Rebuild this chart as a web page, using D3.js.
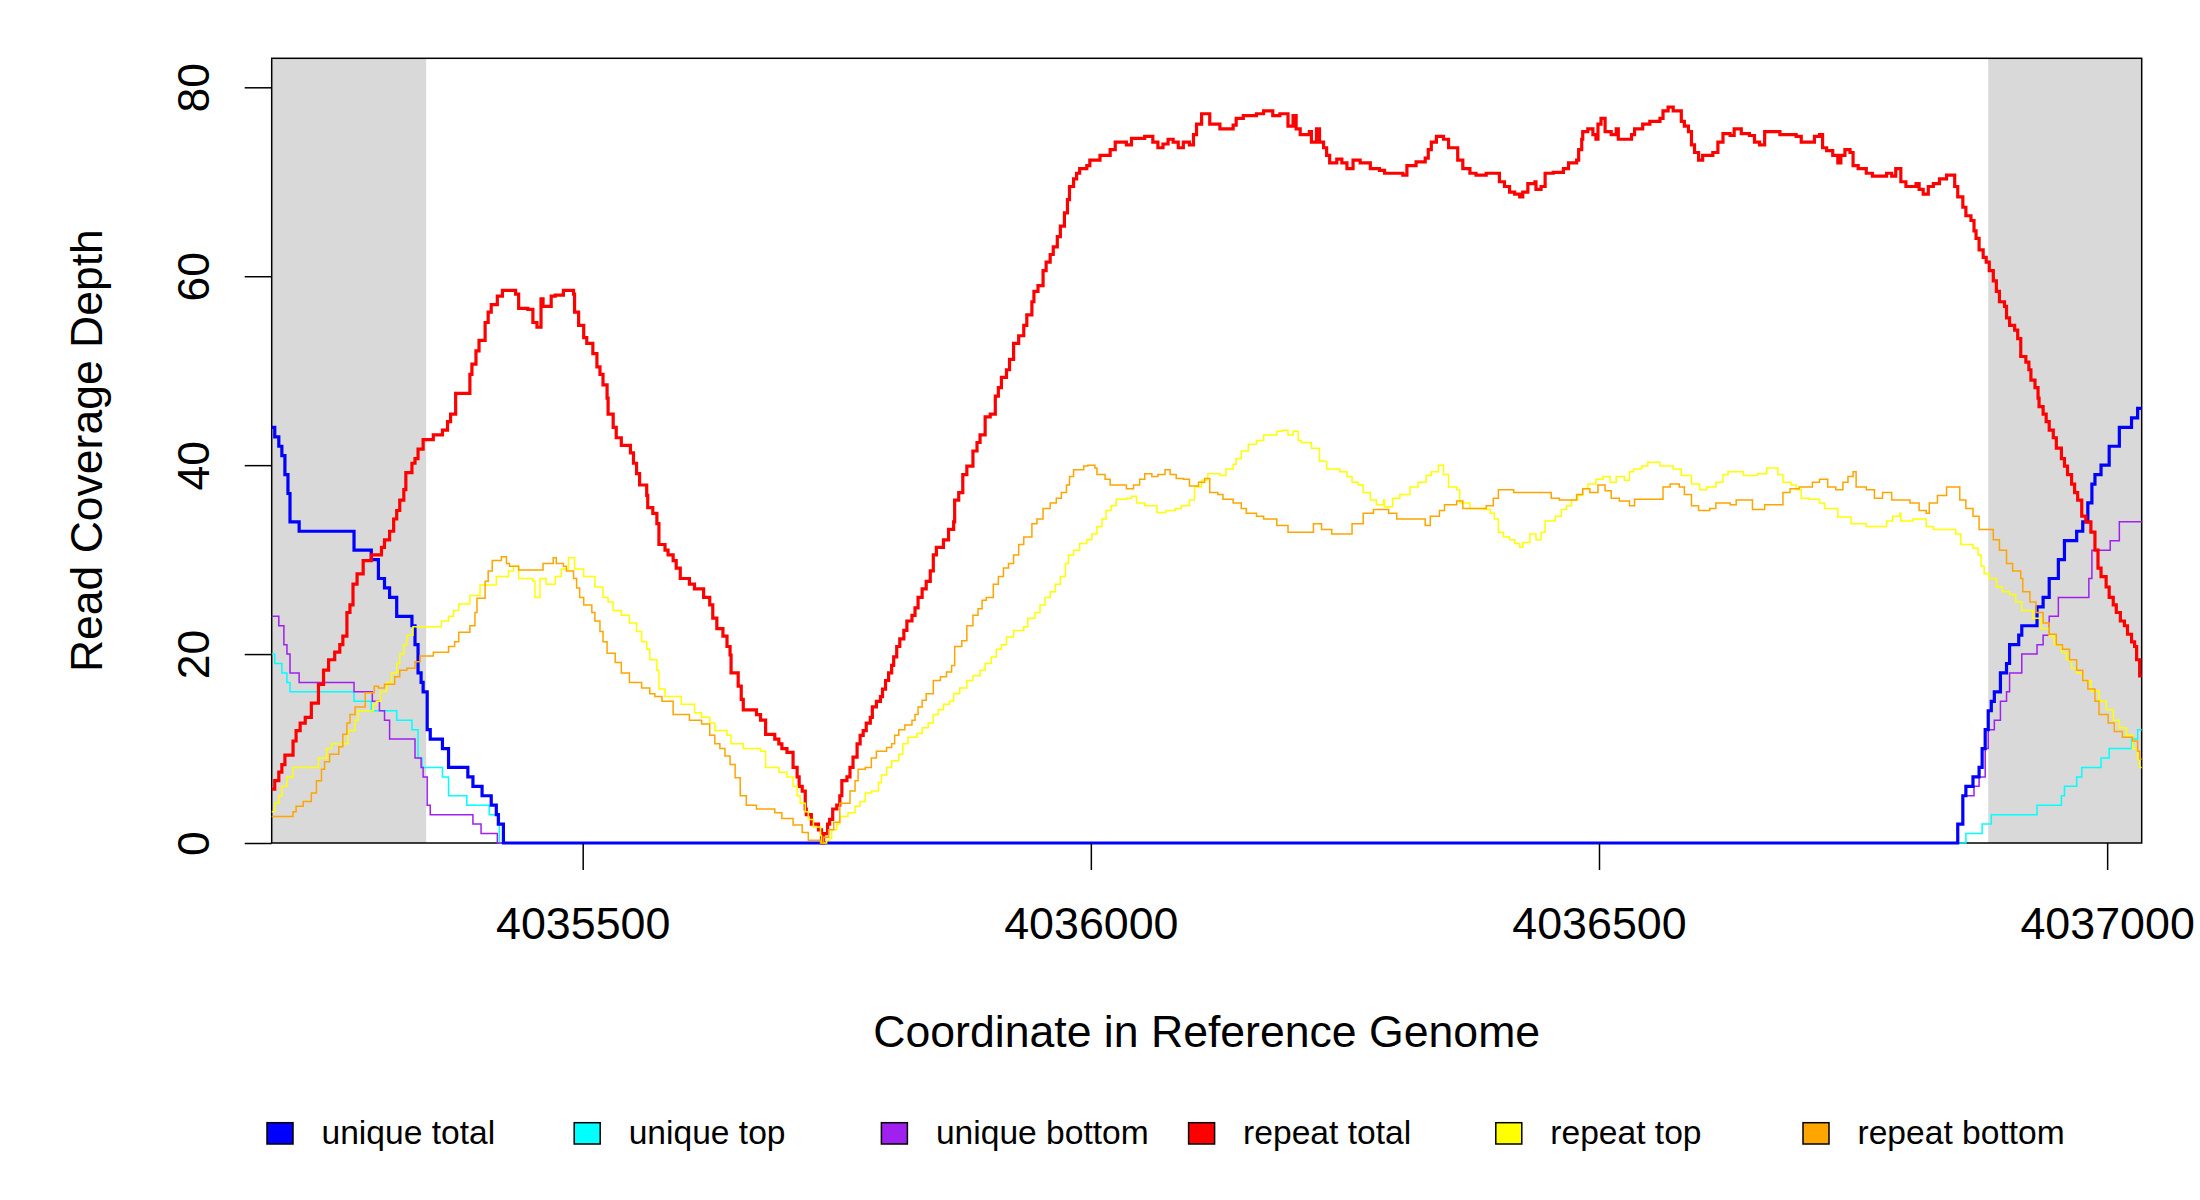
<!DOCTYPE html>
<html>
<head>
<meta charset="utf-8">
<script src="https://cdnjs.cloudflare.com/ajax/libs/d3/7.8.5/d3.min.js"></script>
<style>
  body { margin: 0; background: #fff; }
  svg { display: block; font-family: "Liberation Sans", Arial, sans-serif; }
</style>
</head>
<body>
<svg id="chart" width="2200" height="1200"></svg>
<script>
// Require D3
if (!window.d3) { throw "d3 wasn't included!"; }

/*
COVERAGE DATA
Each series is a list of [coordinate, depth] change points (step function)
*/
var uniqueTotal = [[4035194,44],[4035197,43],[4035201,42],[4035204,41],[4035207,39],[4035210,37],[4035212,34],[4035221,33],[4035275,31],[4035292,30],[4035299,28],[4035305,27],[4035310,26],[4035317,24],[4035332,23],[4035335,21],[4035338,18],[4035341,17],[4035343,16],[4035347,12],[4035350,11],[4035362,10],[4035368,8],[4035387,7],[4035392,6],[4035401,5],[4035410,4],[4035415,3],[4035417,2],[4035422,0],
  [4036853,2],[4036858,5],[4036861,6],[4036868,7],[4036874,8],[4036877,10],[4036880,12],[4036883,14],[4036886,15],[4036889,16],[4036895,18],[4036901,19],[4036904,21],[4036913,22],[4036916,23],[4036931,25],[4036937,26],[4036943,28],[4036952,30],[4036958,32],[4036970,33],[4036976,34],[4036981,36],[4036985,38],[4036988,39],[4036994,40],[4037002,42],[4037012,44],[4037024,45],[4037030,46]];

var uniqueTop = [[4035194,20],[4035197,19],[4035204,18],[4035209,17],[4035212,16],[4035275,15],[4035292,14],[4035317,13],[4035332,12],[4035338,9],[4035342,8],[4035362,7],[4035368,5],[4035386,4],[4035408,3],[4035418,0],
  [4036861,1],[4036877,2],[4036886,3],[4036931,4],[4036955,5],[4036958,6],[4036970,7],[4036975,8],[4036994,9],[4037002,10],[4037024,11],[4037030,12]];

var uniqueBottom = [[4035194,24],[4035201,23],[4035206,21],[4035209,20],[4035212,18],[4035221,17],[4035275,16],[4035293,15],[4035300,14],[4035305,13],[4035310,11],[4035335,9],[4035341,8],[4035343,7],[4035347,4],[4035350,3],[4035392,2],[4035400,1],[4035416,0],
  [4036853,2],[4036858,5],[4036869,6],[4036874,7],[4036880,10],[4036883,12],[4036889,13],[4036895,15],[4036901,16],[4036904,18],[4036916,20],[4036931,21],[4036937,22],[4036943,24],[4036952,26],[4036982,28],[4036985,31],[4037003,32],[4037012,34]];

var repeatTotal = [[4035194,5.7],[4035197,6.6],[4035201,7.5],[4035204,8.3],[4035207,9.3],[4035215,10.8],[4035218,11.9],[4035222,12.7],[4035227,13.3],[4035233,14.8],[4035240,16.8],[4035245,18.3],[4035250,19.4],[4035256,20.2],[4035261,21],[4035264,21.9],[4035268,24.4],[4035271,25.2],[4035274,27.4],[4035278,28.5],[4035284,29.9],[4035292,30.5],[4035302,31.3],[4035305,32.1],[4035310,33],[4035314,34.3],[4035317,35.2],[4035320,36.3],[4035324,37.4],[4035326,39.2],[4035332,40.2],[4035335,40.7],[4035338,41.7],[4035343,42.7],[4035353,43.2],[4035362,43.7],[4035367,44.6],[4035370,45.4],[4035375,47.6],[4035389,49.6],[4035391,50.7],[4035395,52.1],[4035398,53.2],[4035404,55.1],[4035407,56.2],[4035410,57],[4035416,57.9],[4035421,58.5],[4035434,58.1],[4035437,56.6],[4035446,56.5],[4035451,55.1],[4035455,54.6],[4035459,57.6],[4035461,56.8],[4035469,57.9],[4035473,58],[4035481,58.5],[4035491,58.1],[4035492,56.2],[4035496,54.8],[4035501,53.5],[4035504,52.9],[4035510,51.8],[4035514,50.4],[4035517,49.6],[4035520,48.5],[4035524,47.1],[4035525,45.4],[4035530,44],[4035533,42.9],[4035538,42.1],[4035547,41.3],[4035550,40.2],[4035553,39.1],[4035556,37.9],[4035563,36.8],[4035564,35.5],[4035569,34.9],[4035573,33.8],[4035575,31.6],[4035581,31],[4035584,30.5],[4035589,29.9],[4035592,29.1],[4035596,28],[4035605,27.4],[4035610,26.9],[4035619,26],[4035625,25.2],[4035628,23.8],[4035632,22.7],[4035638,21.9],[4035642,20.8],[4035645,19.9],[4035646,18],[4035653,16.6],[4035656,15.2],[4035658,14.1],
  [4035671,13.6],[4035675,13],[4035680,11.5],[4035689,11],[4035693,10.5],[4035696,10],[4035701,9.6],[4035707,8],[4035711,7],[4035713,6],[4035716,5.5],[4035719,3.6],[4035720,3],[4035725,2],[4035732,1.4],[4035735,0],[4035737,1],[4035741,2],[4035743,2.5],[4035746,3.6],[4035750,4],[4035753,5],[4035755,6.6],[4035760,7],[4035763,8],[4035766,9.1],[4035770,10.5],[4035773,11.4],[4035776,11.9],[4035779,12.7],[4035783,13.3],[4035785,14.4],[4035789,15],[4035793,15.5],[4035795,16.3],[4035798,17.2],[4035801,18],[4035804,18.8],[4035806,19.7],[4035809,20.8],[4035812,21.6],[4035816,22.5],[4035819,23.5],[4035824,24.1],[4035827,24.9],[4035830,26],[4035834,26.9],[4035838,27.7],[4035842,28.8],[4035845,30.5],[4035848,31.3],[4035855,32.1],[4035860,33.2],[4035865,34],[4035866,36.3],[4035870,37.1],[4035874,39],[4035878,39.9],[4035884,41.5],[4035888,42.4],[4035891,43.2],[4035896,45.1],[4035901,45.4],[4035906,47.3],[4035909,48.2],[4035912,49.3],[4035917,50.1],[4035920,51.2],[4035924,52.9],[4035929,53.7],[4035934,54.8],[4035937,55.9],[4035942,57.3],[4035944,58.4],[4035948,59],[4035953,60.6],[4035956,61.5],[4035960,62.3],[4035963,63.1],[4035967,64.2],[4035970,65.3],[4035974,66.7],[4035977,68.1],[4035979,69.5],[4035983,70.3],[4035986,70.9],[4035989,71.4],[4035996,71.7],[4035999,72.3],[4036009,72.8],[4036019,73.4],[4036024,74.2],[4036035,73.9],[4036040,74.6],[4036053,74.8],[4036061,74.2],[4036066,73.6],[4036071,74],[4036076,74.5],[4036081,74.2],[4036086,73.6],[4036091,74.2],[4036097,73.9],[4036101,75],[4036104,76.1],[4036109,77.2],[4036117,76.1],[4036127,75.6],[4036140,76],[4036143,76.7],
  [4036150,77],[4036163,77.2],[4036170,77.5],[4036179,77],[4036186,77.2],[4036194,75.9],[4036199,77],[4036202,75.6],[4036206,75],[4036215,75.3],[4036217,74.2],[4036222,75.6],[4036225,74.2],[4036229,73.6],[4036232,72.8],[4036235,72],[4036242,72.4],[4036247,72],[4036252,71.4],[4036258,72.3],[4036265,72],[4036275,71.4],[4036284,71.2],[4036289,70.9],[4036307,70.7],[4036311,71.7],[4036320,72.1],[4036329,72.5],[4036332,73.4],[4036335,74.2],[4036340,74.8],[4036347,74.5],[4036352,73.6],[4036361,72.3],[4036366,71.4],[4036373,70.9],[4036379,70.7],[4036389,70.9],[4036402,70],[4036407,69.5],[4036412,68.9],[4036417,68.7],[4036422,68.4],[4036425,68.9],[4036430,69.8],[4036437,70],[4036438,69.2],[4036443,69.5],[4036447,70.9],[4036455,71],[4036465,71.4],[4036470,72],[4036478,72.3],[4036480,73.4],[4036483,74.5],[4036484,75.3],[4036489,75.6],[4036494,75],[4036497,74.5],[4036499,76.1],[4036502,76.7],[4036506,75.3],[4036512,75],[4036517,75.6],[4036519,74.5],[4036532,75],[4036535,75.6],[4036543,76.1],[4036550,76.4],[4036560,76.7],[4036563,77.5],[4036568,77.9],[4036573,77.5],[4036581,76.4],[4036584,75.9],[4036588,75.3],[4036591,73.9],[4036594,73.1],[4036598,72.3],
  [4036602,72.8],[4036612,73.1],[4036617,74.2],[4036622,75.1],[4036629,74.9],[4036633,75.6],[4036640,75.1],[4036648,74.9],[4036653,74.2],[4036658,73.9],[4036663,75.3],[4036678,75],[4036694,74.8],[4036699,74.2],[4036712,74.8],[4036717,75],[4036720,73.6],[4036724,73.3],[4036730,72.8],[4036735,72],[4036738,72.8],[4036742,73.4],[4036747,73.1],[4036750,71.7],[4036755,71.4],[4036763,70.9],[4036769,70.6],[4036783,70.9],[4036788,70.6],[4036792,71.4],[4036797,70],[4036802,69.5],[4036812,69.8],[4036815,69.2],[4036819,68.7],[4036824,69.5],[4036829,69.8],[4036835,70.3],[4036842,70.7],[4036850,69.5],[4036853,68.4],[4036858,67.3],[4036861,66.4],[4036866,65.9],[4036869,64.8],[4036871,64],[4036874,62.8],[4036878,62],[4036881,61.5],[4036884,60.6],[4036888,59.5],[4036891,58.4],[4036894,57.3],[4036899,56.8],[4036901,55.6],[4036904,54.8],[4036909,54.3],[4036912,53.4],[4036915,51.5],[4036920,50.9],[4036923,50.1],[4036925,49],[4036929,48.2],[4036932,47.1],[4036933,46.2],[4036937,45.4],[4036940,44.6],[4036943,43.7],[4036947,42.9],[4036950,41.8],[4036955,40.7],[4036958,39.9],[4036961,39],[4036965,38],[4036968,37.1],[4036971,36.3],[4036975,34.6],[4036979,34],[4036984,32.9],[4036988,31],[4036991,29.1],[4036994,28.2],[4036999,27.1],[4037002,26],[4037006,25.2],[4037009,24.4],[4037013,23.5],[4037017,23],[4037020,22.1],[4037024,21.3],[4037027,20.8],[4037029,19.4],[4037032,17.7]];

var repeatTop = [[4035194,3.3],[4035197,4.2],[4035201,5],[4035204,6],[4035209,7],[4035215,8],[4035240,9],[4035248,10],[4035253,10.5],[4035269,11.9],[4035276,13],[4035279,14],[4035294,14.7],[4035297,15],[4035301,16],[4035307,17],[4035312,18],[4035317,19],[4035320,20],[4035324,21],[4035327,22],[4035333,22.9],[4035361,23.5],[4035368,24],[4035373,24.6],[4035378,25.3],[4035389,26.2],[4035399,27.3],[4035415,28.2],[4035427,28.8],[4035432,29.3],[4035437,28],[4035451,27.7],[4035453,26],[4035458,28],[4035464,27.4],[4035473,28.2],[4035479,29],[4035486,30.2],[4035492,29],[4035501,28.2],[4035512,27.1],[4035520,26],[4035525,25.5],[4035530,24.6],[4035538,24.1],[4035546,23.3],[4035553,22.4],[4035558,21.3],[4035563,20.5],[4035566,19.4],[4035573,18.3],[4035575,16.3],[4035581,15.5],[4035597,14.7],[4035610,13.8],[4035617,13.3],[4035625,12.7],[4035630,11.9],[4035642,11.4],[4035646,10.5],[4035658,10],
  [4035675,9.7],[4035680,8],[4035693,7.5],[4035701,7],[4035707,6],[4035711,5],[4035714,4.2],[4035719,3.3],[4035722,2.5],[4035727,1.7],[4035734,0.8],[4035735,0],[4035740,0.3],[4035743,0.5],[4035745,1.4],[4035750,2],[4035753,2.8],[4035761,3.2],[4035768,3.9],[4035773,4.4],[4035778,5.3],[4035784,5.5],[4035791,6.4],[4035794,7.2],[4035799,8],[4035804,8.7],[4035811,9.4],[4035815,10.5],[4035820,11.2],[4035829,11.6],[4035834,12.2],[4035840,12.7],[4035845,13.6],[4035850,14.1],[4035855,14.7],[4035861,15],[4035865,15.8],[4035871,16.4],[4035878,17.2],[4035884,17.7],[4035891,18.3],[4035896,19],[4035902,19.7],[4035907,20.5],[4035912,21],[4035917,21.8],[4035924,22.5],[4035934,22.9],[4035938,23.8],[4035945,24.4],[4035950,25.2],[4035955,26],[4035960,26.6],[4035965,27.4],[4035970,28.2],[4035975,29.6],[4035978,30.5],[4035983,31],[4035989,31.7],[4035996,32.1],[4036001,32.7],[4036006,33.5],[4036011,34.3],[4036015,35.2],[4036020,35.7],[4036025,36.4],[4036035,36.5],[4036040,36.7],[4036045,36],[4036053,35.7],[4036065,35],[4036074,35.2],[4036083,35.4],[4036089,35.7],[4036097,36.3],[4036102,37.7],[4036109,38.4],[4036115,39.1],[4036127,38.9],[4036133,39.6],[4036140,40.1],
  [4036143,40.7],[4036148,41.5],[4036155,42.2],[4036163,42.6],[4036170,43.2],[4036183,43.6],[4036188,43.7],[4036194,43.2],[4036199,43.6],[4036204,42.6],[4036207,42.4],[4036217,41.8],[4036225,40.4],[4036232,39.6],[4036245,39.3],[4036252,38.8],[4036257,38.2],[4036263,37.9],[4036268,37.1],[4036275,36.3],[4036281,35.8],[4036288,36.3],[4036289,35.6],[4036297,36.5],[4036304,36.9],[4036314,37.7],[4036322,38.2],[4036330,38.9],[4036335,39.3],[4036342,40],[4036347,39],[4036352,37.7],[4036360,37.4],[4036363,36],[4036373,35.4],[4036386,35.3],[4036393,34.9],[4036397,34.3],[4036401,32.9],[4036406,32.4],[4036412,32.1],[4036417,31.7],[4036422,31.3],[4036425,31.8],[4036432,32.7],[4036438,32.1],[4036443,32.9],[4036447,34.1],[4036457,34.6],[4036463,35.3],[4036468,35.7],[4036473,36.3],[4036479,36.8],[4036484,37.5],[4036489,38],[4036497,38.5],[4036504,38.8],[4036511,38.2],[4036517,38.8],[4036525,38.4],[4036530,39.3],[4036534,39.6],[4036542,39.9],[4036548,40.3],[4036560,39.9],[4036573,39.6],[4036581,38.9],[4036591,38],[4036599,37.4],
  [4036606,37.7],[4036615,38.2],[4036622,39],[4036627,39.3],[4036642,38.9],[4036656,39.1],[4036665,39.7],[4036676,39],[4036681,38.2],[4036689,37.9],[4036694,37.4],[4036699,36.5],[4036707,36.4],[4036717,36],[4036722,35.4],[4036735,34.5],[4036748,33.8],[4036763,33.5],[4036783,34.1],[4036789,34.6],[4036796,34.9],[4036797,34.1],[4036809,34.3],[4036822,33.5],[4036829,33.2],[4036851,32.7],[4036856,31.6],[4036868,31.2],[4036873,30.5],[4036876,29.3],[4036879,28.5],[4036884,28],[4036891,27.1],[4036897,26.6],[4036904,26.3],[4036910,25.5],[4036916,24.6],[4036927,23.8],[4036935,22.7],[4036943,21.9],[4036948,21],[4036955,20.2],[4036960,19.4],[4036965,18.5],[4036970,18],[4036976,17.2],[4036984,16.1],[4036992,15],[4036999,14.1],[4037006,13],[4037012,12.2],[4037019,11.4],[4037025,10],[4037030,8.9],[4037032,8]];

var repeatBottom = [[4035194,2.8],[4035215,3.3],[4035218,3.9],[4035225,4.4],[4035233,5.3],[4035238,6.6],[4035243,7.8],[4035246,8.6],[4035251,9.4],[4035260,10.2],[4035264,11.5],[4035268,12.7],[4035271,13.6],[4035276,14.4],[4035286,15.9],[4035295,16.6],[4035299,16.4],[4035305,16.8],[4035315,17.6],[4035320,18.3],[4035327,18.5],[4035335,19.2],[4035340,19.8],[4035353,20.2],[4035368,20.8],[4035374,21.3],[4035378,22.3],[4035389,23],[4035394,24.4],[4035396,25.9],[4035404,27.7],[4035407,28.8],[4035411,29.9],[4035420,30.3],[4035425,29.6],[4035428,29.3],[4035437,28.9],[4035461,29.6],[4035471,30.2],[4035474,29.6],[4035481,29.3],[4035484,28.8],[4035491,28],[4035494,27],[4035497,26],[4035501,25.2],[4035509,24.4],[4035512,23.5],[4035517,22.4],[4035520,21.3],[4035524,20.1],[4035532,19.1],[4035538,18],[4035546,17],[4035558,16.4],[4035566,15.8],[4035571,15.5],[4035578,15],[4035589,13.6],[4035605,13],[4035617,12.6],[4035625,11.4],[4035630,10.5],[4035635,10],[4035640,9.2],[4035645,8.3],[4035650,6.9],[4035655,5],
  [4035661,4],[4035671,3.6],[4035689,3.2],[4035696,2.6],[4035707,1.9],[4035716,1.1],[4035722,0.3],[4035734,0],[4035737,0.6],[4035742,1.4],[4035747,2.2],[4035753,4.2],[4035763,5.5],[4035768,6.6],[4035771,7.8],[4035778,8],[4035784,9],[4035789,9.7],[4035799,10.1],[4035804,10.5],[4035807,11.4],[4035811,12],[4035817,12.5],[4035824,13],[4035827,13.6],[4035830,14.4],[4035834,15.1],[4035838,15.8],[4035845,17.2],[4035852,17.6],[4035858,18.1],[4035863,18.8],[4035866,20.8],[4035873,21.4],[4035878,23],[4035884,24.1],[4035889,24.8],[4035893,25.7],[4035897,26],[4035904,27.4],[4035909,28.2],[4035914,29.1],[4035919,29.6],[4035924,30.5],[4035929,31.6],[4035934,32.4],[4035942,33.8],[4035947,34.3],[4035953,35.4],[4035960,36],[4035966,36.5],[4035971,37.1],[4035976,37.9],[4035979,38.8],[4035983,39.5],[4035993,39.9],[4035997,40],[4036004,39.7],[4036006,39],[4036014,38.5],[4036019,37.9],[4036035,37.5],[4036042,37.9],[4036048,38.5],[4036053,39.1],[4036060,38.8],[4036066,39],[4036073,39.5],[4036078,39],[4036084,38.6],[4036091,38.5],[4036097,37.8],[4036106,38.2],[4036112,38.6],[4036117,37.1],[4036125,36.9],[4036130,36.4],[4036140,36],
  [4036148,35.4],[4036153,34.9],[4036163,34.6],[4036170,34.3],[4036183,33.6],[4036194,32.9],[4036219,33.8],[4036227,33.2],[4036237,32.7],[4036257,33.8],[4036268,34.9],[4036278,35.3],[4036293,34.9],[4036301,34.3],[4036329,33.6],[4036334,34.6],[4036343,35.2],[4036348,35.8],[4036360,36.2],[4036366,35.4],[4036389,35.7],[4036396,36.5],[4036401,37.4],[4036416,37.1],[4036453,36.5],[4036461,36.3],[4036478,36.9],[4036484,37.5],[4036491,37.1],[4036499,37.9],[4036506,37.3],[4036512,36.5],[4036520,36.2],[4036530,35.7],[4036535,36.4],[4036563,37.7],[4036570,38],[4036579,37.7],[4036584,36.9],[4036591,35.7],[4036598,35.2],
  [4036609,35.4],[4036615,36],[4036629,35.8],[4036635,36.3],[4036651,35.3],[4036663,35.8],[4036681,37.1],[4036688,37.5],[4036697,37.7],[4036710,38.2],[4036717,38.5],[4036725,37.7],[4036733,37.4],[4036740,38.2],[4036745,38.8],[4036750,39.3],[4036753,37.7],[4036763,37.4],[4036771,36.5],[4036779,37.1],[4036788,36.3],[4036806,36],[4036815,35.2],[4036822,34.9],[4036825,36],[4036833,36.8],[4036842,37.7],[4036855,36.3],[4036861,35.4],[4036868,34.6],[4036874,33.2],[4036888,32.1],[4036894,31],[4036901,29.6],[4036907,28.8],[4036915,28],[4036917,26.6],[4036924,25.5],[4036930,24.4],[4036937,23.3],[4036943,22.1],[4036950,21],[4036956,20.5],[4036963,19.4],[4036970,18.3],[4036976,17.2],[4036981,16.3],[4036988,15],[4036992,13.6],[4037001,12.7],[4037007,11.8],[4037015,11.2],[4037025,10.8],[4037030,9.7],[4037032,8.9]];

// Axis extents and ticks
var xExtent = [4035194, 4037034];
var yExtent = [0, 83.07];
var xTicks = [4035500, 4036000, 4036500, 4037000];
var yTicks = [0, 20, 40, 60, 80];

// Shaded flanks at both ends
var flanks = [[4035194, 4035346], [4036883, 4037034]];

// Series labels and colours (legend order)
var seriesNames = ["unique total", "unique top", "unique bottom", "repeat total", "repeat top", "repeat bottom"];
var seriesData = [uniqueTotal, uniqueTop, uniqueBottom, repeatTotal, repeatTop, repeatBottom];
var seriesColors = ["#0000ff", "#00ffff", "#a020f0", "#ff0000", "#ffff00", "#ffa500"];
var seriesThick = [true, false, false, true, false, false];
// draw order: thin unique lines under the thick blue one
var drawOrder = [1, 2, 0, 3, 4, 5];

var xLabel = "Coordinate in Reference Genome";
var yLabel = "Read Coverage Depth";

// Plot region
var plot = { left: 271.7, right: 2141.7, top: 58.3, bottom: 843 };

var svg = d3.select("#chart");

var x = d3.scaleLinear().domain(xExtent).range([plot.left, plot.right]);
var y = d3.scaleLinear().domain(yExtent).range([plot.bottom, plot.top]);

// Underlay: grey flanks
svg.append("g")
  .attr("class", "underlay")
  .selectAll("rect")
  .data(flanks)
  .enter().append("rect")
    .attr("x", function(d) { return x(d[0]); })
    .attr("y", plot.top)
    .attr("width", function(d) { return x(d[1]) - x(d[0]); })
    .attr("height", plot.bottom - plot.top)
    .style("fill", "#d9d9d9")
    ;

// Box
svg.append("rect")
  .attr("x", plot.left)
  .attr("y", plot.top)
  .attr("width", plot.right - plot.left)
  .attr("height", plot.bottom - plot.top)
  .style("fill", "none")
  .style("stroke", "#000")
  .style("stroke-width", 1.5)
  ;

// Step lines
var line = d3.line()
  .x(function(d) { return x(d[0]); })
  .y(function(d) { return y(d[1]); })
  .curve(d3.curveStepAfter);

var chart = svg.append("g").attr("class", "chart");

drawOrder.forEach(function(i) {
  var data = seriesData[i];
  // close the last step at the right edge
  var pts = data.concat([[xExtent[1], data[data.length - 1][1]]]);
  chart.append("path")
    .datum(pts)
    .attr("d", line)
    .style("fill", "none")
    .style("stroke", seriesColors[i])
    .style("stroke-width", seriesThick[i] ? 3.2 : 1.5)
    ;
});

// Y axis
var yAxis = svg.append("g")
  .attr("transform", translate(plot.left, 0))
  .call(d3.axisLeft(y).tickValues(yTicks).tickSize(27).tickSizeOuter(0));
yAxis.select(".domain").remove();
yAxis.selectAll(".tick line").style("stroke-width", 1.5);
yAxis.selectAll(".tick text")
  .attr("x", null)
  .attr("dy", null)
  .attr("transform", translate(-62.4, 0) + " " + rotate(-90))
  .style("text-anchor", "middle")
  .style("font-size", "44.5px")
  .style("font-family", "Liberation Sans, Arial, sans-serif")
  .style("fill", "#000")
  ;

// X axis
var xAxis = svg.append("g")
  .attr("transform", translate(0, plot.bottom))
  .call(d3.axisBottom(x).tickValues(xTicks).tickSize(27).tickSizeOuter(0).tickFormat(d3.format("d")));
xAxis.select(".domain").remove();
xAxis.selectAll(".tick line").style("stroke-width", 1.5);
xAxis.selectAll(".tick text")
  .attr("y", 96)
  .attr("dy", null)
  .style("font-size", "44.8px")
  .style("font-family", "Liberation Sans, Arial, sans-serif")
  .style("fill", "#000")
  ;

// Axis titles
svg.append("text")
  .attr("x", (plot.left + plot.right) / 2)
  .attr("y", 1046.7)
  .style("text-anchor", "middle")
  .style("font-size", "44.6px")
  .text(xLabel);

svg.append("text")
  .attr("transform", translate(102, (plot.top + plot.bottom) / 2) + " " + rotate(-90))
  .style("text-anchor", "middle")
  .style("font-size", "44.5px")
  .text(yLabel);

// Legend
var legend = svg.append("g")
  .attr("class", "legend")
  .selectAll("g")
  .data(seriesNames)
  .enter().append("g")
    .attr("transform", function(d, i) { return translate(267 + i * 307.2, 1122.7); });

legend.append("rect")
  .attr("width", 26)
  .attr("height", 21.3)
  .style("fill", function(d, i) { return seriesColors[i]; })
  .style("stroke", "#000")
  .style("stroke-width", 1.5);

legend.append("text")
  .attr("x", 54.5)
  .attr("y", 21.3)
  .style("font-size", "33.6px")
  .text(function(d) { return d; });

function translate(x, y) {
  return "translate(" + x + " " + y + ")";
}

function rotate(a, cx, cy) {
  cx = cx || 0;
  cy = cy || 0;
  return "rotate(" + a + "," + cx + "," + cy + ")";
}
</script>
</body>
</html>
